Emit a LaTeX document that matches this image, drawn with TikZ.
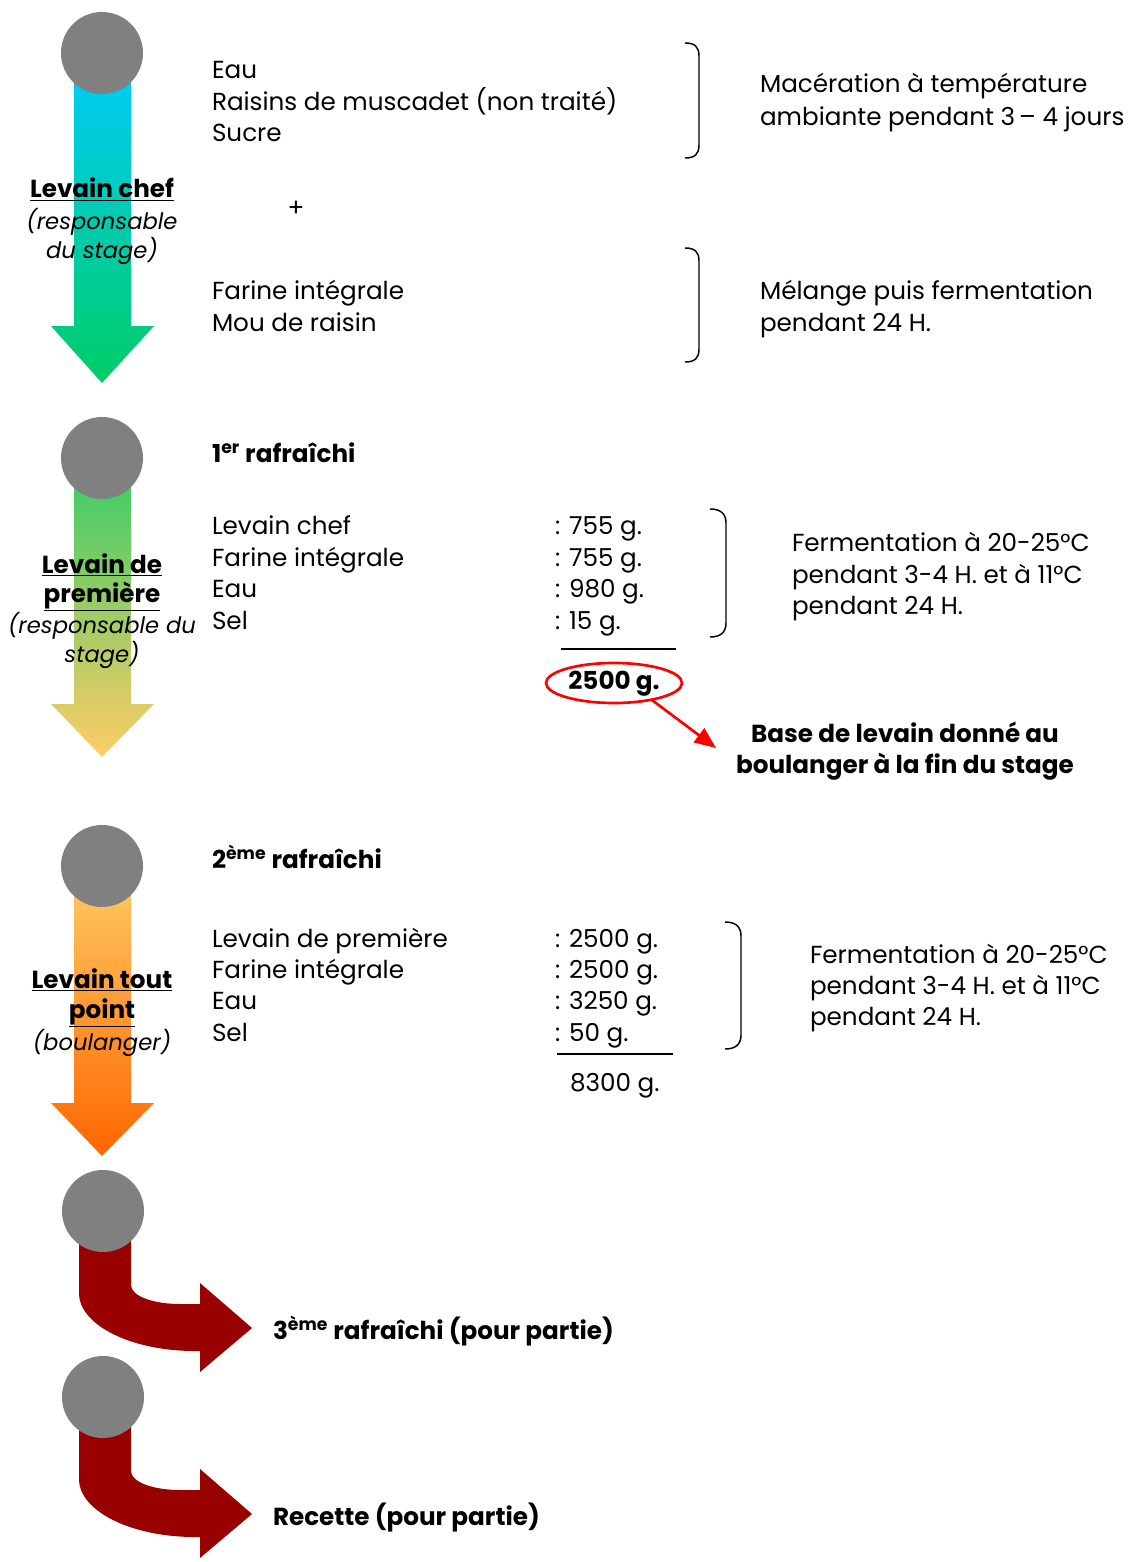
\documentclass[tikz,border=0pt]{standalone}
\usepackage{fontspec}
\setmainfont{Poppins}
\usetikzlibrary{arrows.meta,shapes.geometric}
\definecolor{dotgray}{RGB}{128,128,128}
\definecolor{aAtop}{RGB}{0,204,255}
\definecolor{aAbot}{RGB}{0,204,102}
\definecolor{aBtop}{RGB}{51,204,102}
\definecolor{aBbot}{RGB}{255,204,102}
\definecolor{aCtop}{RGB}{255,204,102}
\definecolor{aCbot}{RGB}{255,102,0}
\definecolor{darkred}{RGB}{153,0,0}
\begin{document}
\begin{tikzpicture}[x=0.75pt,y=-0.75pt,
  every node/.style={inner sep=0pt,outer sep=0pt},
  txt/.style={anchor=base west,font=\fontsize{18.5}{22}\selectfont},
  bld/.style={anchor=base west,font=\fontsize{18.5}{22}\selectfont\bfseries},
  lab/.style={anchor=base,font=\fontsize{18.5}{22}\selectfont\bfseries},
  itl/.style={anchor=base,font=\fontsize{17}{22}\selectfont\itshape},
  dot/.style={circle,fill=dotgray,minimum size=61.5pt},
  brk/.style={line width=1.1pt},
  sumline/.style={line width=1.1pt}]
\useasboundingbox (0,0) rectangle (1136,1562);

% gradient arrows
\shade[top color=aAtop,bottom color=aAbot] (74,53) -- (131,53) -- (131,326) -- (154,326) -- (102,383) -- (51,326) -- (74,326) -- cycle;
\shade[top color=aBtop,bottom color=aBbot] (74,458) -- (131,458) -- (131,704) -- (154,704) -- (102,757) -- (51,704) -- (74,704) -- cycle;
\shade[top color=aCtop,bottom color=aCbot] (74,866) -- (131,866) -- (131,1103) -- (154,1103) -- (102,1156) -- (51,1103) -- (74,1103) -- cycle;

% bent arrows
\foreach \o in {0,186}{
  \fill[darkred] (79,{1211+\o}) -- (131,{1211+\o}) -- (131,{1285+\o})
    .. controls (131,{1296+\o}) and (153,{1304+\o}) .. (180,{1304+\o})
    -- (200,{1304+\o}) -- (200,{1283+\o}) -- (252,{1328+\o}) -- (200,{1372+\o})
    -- (200,{1351+\o}) -- (195,{1351+\o})
    .. controls (131,{1351+\o}) and (79,{1325+\o}) .. (79,{1293+\o}) -- cycle;
}

% circles
\node[dot] (c1) at (102,53) {};
\node[dot] (c2) at (102,458) {};
\node[dot] (c3) at (102,866) {};
\node[dot] (c4) at (103,1211) {};
\node[dot] (c5) at (103,1397) {};

% left labels
\node[lab] (l1a) at (102,198) {\underline{Levain chef}};
\node[itl] (l1b) at (102,229) {(responsable};
\node[itl] (l1c) at (102,258) {du stage)};
\node[lab] (l2a) at (102,573) {\underline{Levain de}};
\node[lab] (l2b) at (102,602) {\underline{première}};
\node[itl] (l2c) at (102,633) {(responsable du};
\node[itl] (l2d) at (102,662) {stage)};
\node[lab] (l3a) at (102,988) {\underline{Levain tout}};
\node[lab] (l3b) at (102,1018) {\underline{point}};
\node[itl] (l3c) at (102,1050) {(boulanger)};

% block 1
\node[txt] (t1a) at (212,79) {Eau};
\node[txt] (t1b) at (212,111) {Raisins de muscadet (non traité)};
\node[txt] (t1c) at (212,142) {Sucre};
\node[font=\fontsize{18.5}{22}\selectfont] (plus) at (296,209) {+};
\node[txt] (t1d) at (212,299) {Farine intégrale};
\node[txt] (t1e) at (212,331) {Mou de raisin};
\draw[brk] (685,43) .. controls (695,43) and (699,47) .. (699,56) -- (699,145) .. controls (699,154) and (695,158) .. (685,158);
\draw[brk] (685,248) .. controls (695,248) and (699,252) .. (699,261) -- (699,349) .. controls (699,358) and (695,362) .. (685,362);
\node[txt] (r1a) at (760,93) {Macération à température};
\node[txt] (r1b) at (760,126) {ambiante pendant 3\,– 4 jours};
\node[txt] (r2a) at (760,299) {Mélange puis fermentation};
\node[txt] (r2b) at (760,331) {pendant 24 H.};

% block 2
\node[bld] (h2) at (212,462) {1\textsuperscript{er} rafraîchi};
\node[txt] (t2a) at (212,534) {Levain chef};
\node[txt] (t2b) at (212,566) {Farine intégrale};
\node[txt] (t2c) at (212,597) {Eau};
\node[txt] (t2d) at (212,629) {Sel};
\node[txt] (v2a) at (555,534) {: 755 g.};
\node[txt] (v2b) at (555,566) {: 755 g.};
\node[txt] (v2c) at (555,597) {: 980 g.};
\node[txt] (v2d) at (555,629) {: 15 g.};
\draw[sumline] (561,649) -- (676,649);
\node[ellipse,draw=red,line width=2pt,minimum width=102pt,minimum height=30pt] (ell) at (614,683) {};
\node[font=\fontsize{18.5}{22}\selectfont\bfseries] (tot2) at (614,684) {2500 g.};
\draw[brk] (710,509) .. controls (721,509) and (726,514) .. (726,523) -- (726,623) .. controls (726,632) and (721,637) .. (710,637);
\node[txt] (r3a) at (792,551) {Fermentation à 20-25°C};
\node[txt] (r3b) at (792,583) {pendant 3-4 H. et à 11°C};
\node[txt] (r3c) at (792,614) {pendant 24 H.};
\node[lab] (b1) at (905,742) {Base de levain donné au};
\node[lab] (b2) at (905,773) {boulanger à la fin du stage};
\coordinate (arrend) at (716,748);
\draw[red,line width=2pt,-{Triangle[length=16pt,width=13pt]}] (ell.-24) -- (arrend);

% block 3
\node[bld] (h3) at (212,868) {2\textsuperscript{ème} rafraîchi};
\node[txt] (t3a) at (212,947) {Levain de première};
\node[txt] (t3b) at (212,978) {Farine intégrale};
\node[txt] (t3c) at (212,1009) {Eau};
\node[txt] (t3d) at (212,1041) {Sel};
\node[txt] (v3a) at (555,947) {: 2500 g.};
\node[txt] (v3b) at (555,978) {: 2500 g.};
\node[txt] (v3c) at (555,1009) {: 3250 g.};
\node[txt] (v3d) at (555,1041) {: 50 g.};
\draw[sumline] (557,1054) -- (673,1054);
\node[txt] (tot3) at (570,1091) {8300 g.};
\draw[brk] (725,922) .. controls (736,922) and (741,927) .. (741,936) -- (741,1035) .. controls (741,1044) and (736,1049) .. (725,1049);
\node[txt] (r4a) at (810,963) {Fermentation à 20-25°C};
\node[txt] (r4b) at (810,994) {pendant 3-4 H. et à 11°C};
\node[txt] (r4c) at (810,1025) {pendant 24 H.};

% block 4
\node[bld] (h4) at (273,1339) {3\textsuperscript{ème} rafraîchi (pour partie)};
\node[bld] (h5) at (273,1525) {Recette (pour partie)};
\end{tikzpicture}
\end{document}
